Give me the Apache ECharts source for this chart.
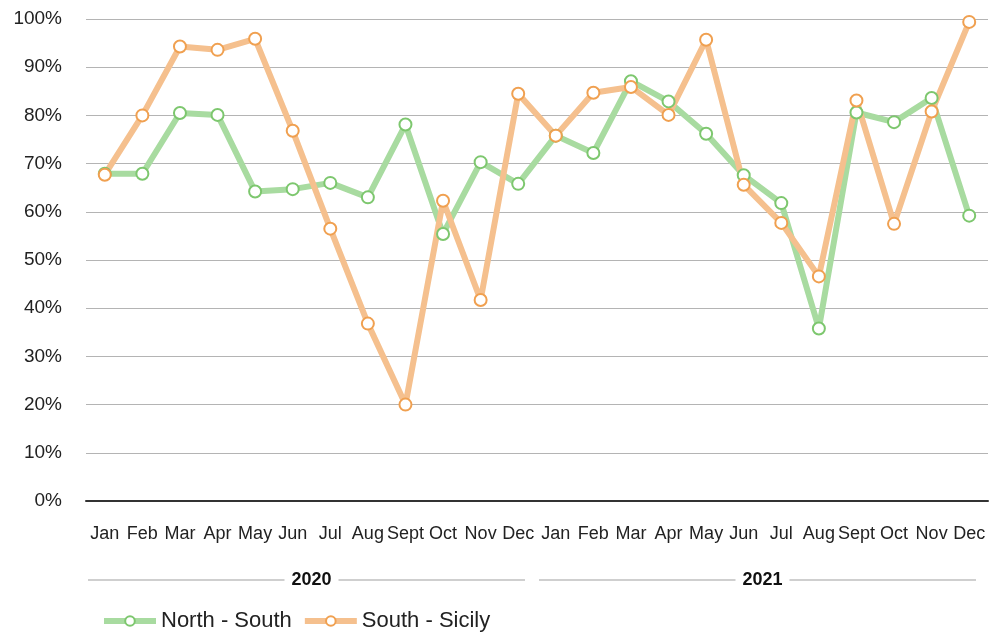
<!DOCTYPE html>
<html>
<head>
<meta charset="utf-8">
<title>North - South / South - Sicily</title>
<script src="https://cdn.jsdelivr.net/npm/echarts@6/dist/echarts.min.js"></script>
<style>
  html, body { margin: 0; padding: 0; background: #fff; }
  #main { width: 989px; height: 637px; }
</style>
</head>
<body>
<div id="main"></div>
<script>
// months repeated for two years
var months = ['Jan','Feb','Mar','Apr','May','Jun','Jul','Aug','Sept','Oct','Nov','Dec',
              'Jan','Feb','Mar','Apr','May','Jun','Jul','Aug','Sept','Oct','Nov','Dec'];
var years = ['2020', '2021'];

// values in %
var northSouth = [67.9, 67.9, 80.5, 80.1, 64.2, 64.7, 66.0, 63.0, 78.1, 55.4, 70.3, 65.8,
                  75.8, 72.2, 87.1, 82.9, 76.2, 67.6, 61.8, 35.8, 80.6, 78.6, 83.6, 59.2];
var southSicily = [67.7, 80.0, 94.3, 93.6, 95.9, 76.8, 56.5, 36.8, 20.0, 62.3, 41.7, 84.5,
                   75.8, 84.7, 85.9, 80.1, 95.7, 65.6, 57.7, 46.6, 83.1, 57.5, 80.8, 99.4];

var yTicks = [0, 10, 20, 30, 40, 50, 60, 70, 80, 90, 100];

var font = 'Liberation Sans';

var myChart = echarts.init(document.getElementById('main'));

function lineSeries(name, data, lineColor, borderColor) {
    return {
        name: name,
        type: 'line',
        data: data,
        symbol: 'circle',
        symbolSize: 12,
        showAllSymbol: true,
        lineStyle: { color: lineColor, width: 6 },
        itemStyle: { color: '#fff', borderColor: borderColor, borderWidth: 2 },
        emphasis: { disabled: true }
    };
}

myChart.setOption({
    animation: false,
    textStyle: { fontFamily: font },
    grid: { left: 86, right: 1, top: 19, bottom: 136, containLabel: false },
    legend: {
        left: 96,
        bottom: 0,
        itemWidth: 52,
        itemHeight: 12,
        itemGap: 10,
        textStyle: { fontSize: 22, color: '#222', fontFamily: font },
        data: [
            { name: 'North - South', itemStyle: { color: '#fff', borderColor: '#7dc76e', borderWidth: 2 }, lineStyle: { color: '#a8dba0', width: 6 } },
            { name: 'South - Sicily', itemStyle: { color: '#fff', borderColor: '#f0a050', borderWidth: 2 }, lineStyle: { color: '#f5c08e', width: 6 } }
        ]
    },
    xAxis: {
        type: 'category',
        data: months,
        boundaryGap: true,
        axisLine: { lineStyle: { color: '#333', width: 2 } },
        axisTick: { show: false },
        axisLabel: { interval: 0, margin: 24, fontSize: 18, color: '#222' }
    },
    yAxis: {
        type: 'value',
        min: yTicks[0],
        max: yTicks[yTicks.length - 1],
        interval: 10,
        axisLine: { show: false },
        axisTick: { show: false },
        axisLabel: { margin: 24, fontSize: 19, color: '#222', formatter: '{value}%' },
        splitLine: { lineStyle: { color: '#b4b4b4', width: 1 } }
    },
    series: [
        lineSeries('North - South', northSouth, '#a8dba0', '#7dc76e'),
        lineSeries('South - Sicily', southSicily, '#f5c08e', '#f0a050')
    ]
});

// year group labels under the month labels
var p0 = myChart.convertToPixel({ xAxisIndex: 0 }, 0);
var p1 = myChart.convertToPixel({ xAxisIndex: 0 }, 1);
var band = p1 - p0;
var gy = 580;
var graphics = [];
years.forEach(function (yr, i) {
    var start = p0 - band / 2 + i * 12 * band;
    var end = start + 12 * band;
    var mid = (start + end) / 2;
    graphics.push({
        type: 'line', silent: true,
        shape: { x1: start + 2, y1: gy, x2: mid - 27, y2: gy },
        style: { stroke: '#cfcfcf', lineWidth: 2 }
    });
    graphics.push({
        type: 'line', silent: true,
        shape: { x1: mid + 27, y1: gy, x2: end - 12, y2: gy },
        style: { stroke: '#cfcfcf', lineWidth: 2 }
    });
    graphics.push({
        type: 'text', silent: true,
        x: mid, y: gy,
        style: { text: yr, fontSize: 18, fontWeight: 'bold', fontFamily: font, fill: '#111', align: 'center', verticalAlign: 'middle' }
    });
});
myChart.setOption({ graphic: graphics });
</script>
</body>
</html>
